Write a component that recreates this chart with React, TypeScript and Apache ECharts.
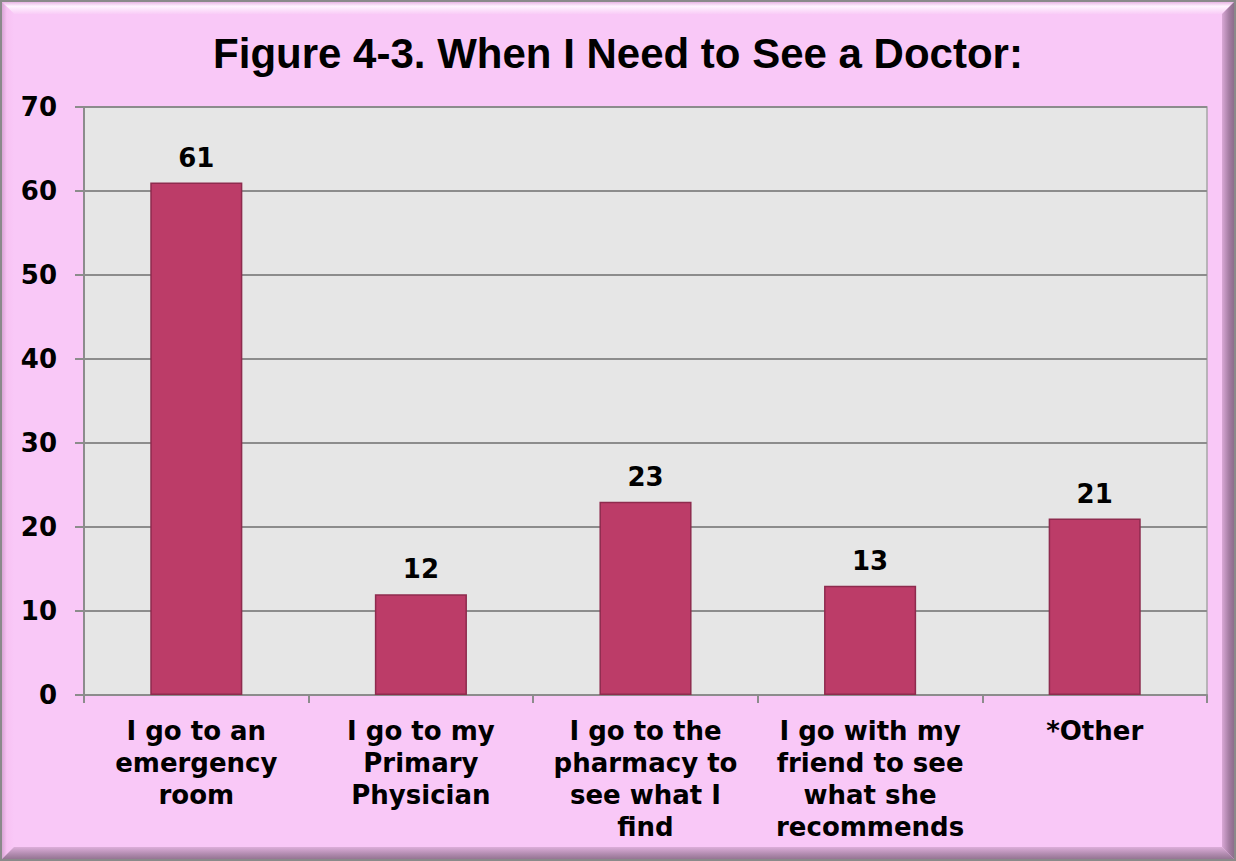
import React, { useEffect, useRef } from "react";
import * as echarts from "echarts";

const categories = [
  "I go to an\nemergency\nroom",
  "I go to my\nPrimary\nPhysician",
  "I go to the\npharmacy to\nsee what I\nfind",
  "I go with my\nfriend to see\nwhat she\nrecommends",
  "*Other",
];
const values = [61, 12, 23, 13, 21];
const yTicks = { min: 0, max: 70, interval: 10 };
const titleText = "Figure 4-3. When I Need to See a Doctor:";

export default function App() {
  const ref = useRef<HTMLDivElement>(null);
  useEffect(() => {
    const chart = echarts.init(ref.current!, null, { renderer: "svg" });
    const W = 1236, H = 861, b = 12;
    chart.setOption({
      animation: false,
      backgroundColor: "#F9C8F7",
      graphic: [
        { type: "rect", z: -10, shape: { x: 1, y: 1, width: W - 2, height: H - 2 }, style: { fill: "#F9C8F7", stroke: "#8A8A8A", lineWidth: 2 } },
        { type: "polygon", z: -9, shape: { points: [[2, 2], [W - 2, 2], [W - 2 - b, 2 + b], [2 + b, 2 + b]] },
          style: { fill: new echarts.graphic.LinearGradient(0, 0, 0, 1, [{ offset: 0, color: "#E8B4E4" }, { offset: 0.35, color: "#FFF4FE" }, { offset: 1, color: "#F9CCF7" }]) } },
        { type: "polygon", z: -9, shape: { points: [[2, 2], [2 + b, 2 + b], [2 + b, H - 2 - b], [2, H - 2]] },
          style: { fill: new echarts.graphic.LinearGradient(0, 0, 1, 0, [{ offset: 0, color: "#D9A6D5" }, { offset: 0.4, color: "#F7C2F3" }, { offset: 1, color: "#F9C8F7" }]) } },
        { type: "polygon", z: -9, shape: { points: [[W - 2, 2], [W - 2, H - 2], [W - 2 - b, H - 2 - b], [W - 2 - b, 2 + b]] },
          style: { fill: new echarts.graphic.LinearGradient(0, 0, 1, 0, [{ offset: 0, color: "#D9A8D6" }, { offset: 0.6, color: "#A47CA2" }, { offset: 1, color: "#8E6E8C" }]) } },
        { type: "polygon", z: -9, shape: { points: [[2, H - 2], [W - 2, H - 2], [W - 2 - b, H - 2 - b], [2 + b, H - 2 - b]] },
          style: { fill: new echarts.graphic.LinearGradient(0, 0, 0, 1, [{ offset: 0, color: "#DDAEDA" }, { offset: 0.6, color: "#B08AAE" }, { offset: 1, color: "#957593" }]) } },
      ],
      title: {
        text: titleText,
        left: "center",
        top: 27,
        textStyle: { fontFamily: "Liberation Sans", fontWeight: "bold", fontSize: 42, color: "#000" },
      },
      grid: { left: 84, right: 29, top: 107, bottom: 166, show: true, backgroundColor: "#E6E6E6", borderColor: "#A6A6A6", borderWidth: 1.5 },
      xAxis: {
        type: "category",
        data: categories,
        axisLine: { lineStyle: { color: "#8C8C8C", width: 2 } },
        axisTick: { show: true, length: 8, lineStyle: { color: "#8C8C8C", width: 2 } },
        axisLabel: {
          interval: 0,
          margin: 20,
          fontFamily: "DejaVu Sans",
          fontWeight: "bold",
          fontSize: 26,
          lineHeight: 32,
          color: "#000",
        },
      },
      yAxis: {
        type: "value",
        min: yTicks.min,
        max: yTicks.max,
        interval: yTicks.interval,
        axisLine: { show: true, lineStyle: { color: "#8C8C8C", width: 2 } },
        axisTick: { show: true, length: 9, lineStyle: { color: "#8C8C8C", width: 2 } },
        splitLine: { lineStyle: { color: "#8C8C8C", width: 2 } },
        axisLabel: { margin: 27, fontFamily: "DejaVu Sans", fontWeight: "bold", fontSize: 26, color: "#000" },
      },
      series: [
        {
          type: "bar",
          data: values,
          barWidth: "41%",
          itemStyle: { color: "#BC3C68", borderColor: "#8E2B4E", borderWidth: 1.5 },
          label: {
            show: true,
            position: "top",
            distance: 12,
            fontFamily: "DejaVu Sans",
            fontWeight: "bold",
            fontSize: 26,
            color: "#000",
          },
        },
      ],
    });
    return () => chart.dispose();
  }, []);
  return <div ref={ref} style={{ position: "fixed", left: 0, top: 0, width: 1236, height: 861 }} />;
}
